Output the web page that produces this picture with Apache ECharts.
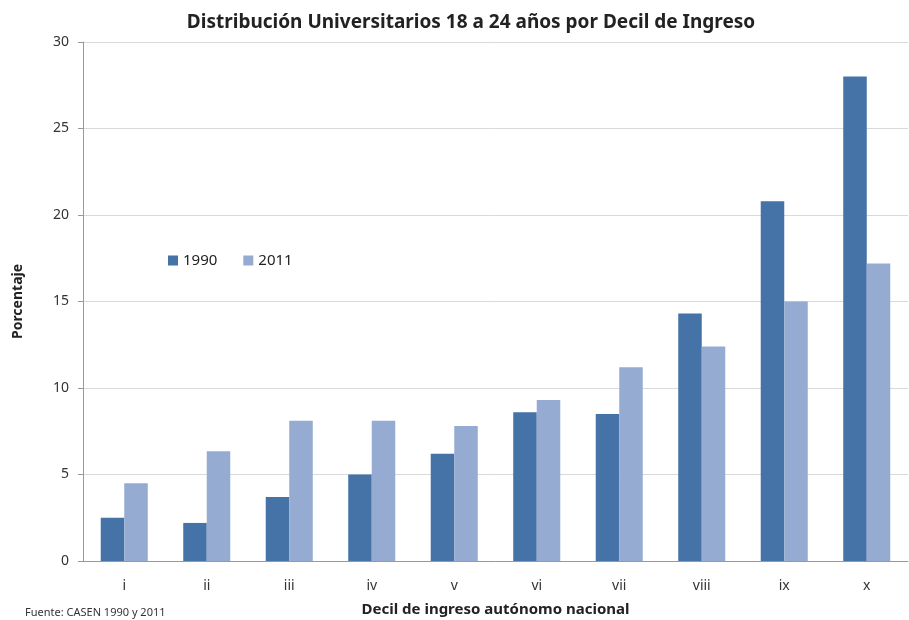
<!DOCTYPE html>
<html>
<head>
<meta charset="utf-8">
<script src="https://cdn.jsdelivr.net/npm/echarts@6/dist/echarts.min.js"></script>
<style>
  html, body { margin: 0; padding: 0; background: #fff; }
  #chart { width: 909px; height: 620px; }
</style>
</head>
<body>
<div id="chart"></div>
<script>
// datos
var deciles = ['i', 'ii', 'iii', 'iv', 'v', 'vi', 'vii', 'viii', 'ix', 'x'];
var datos1990 = [2.5, 2.2, 3.7, 5.0, 6.2, 8.6, 8.5, 14.3, 20.8, 28.0];
var datos2011 = [4.5, 6.35, 8.1, 8.1, 7.8, 9.3, 11.2, 12.4, 15.0, 17.2];

var fuente = 'Noto Sans';

var myChart = echarts.init(document.getElementById('chart'));

var option = {
    animation: false,
    title: [{
        text: 'Distribución Universitarios 18 a 24 años por Decil de Ingreso',
        left: 466,
        textAlign: 'center',
        top: 8,
        textStyle: { fontFamily: fuente, fontSize: 19, fontWeight: 'bold', color: '#222' }
    }, {
        text: 'Fuente: CASEN 1990 y 2011',
        left: 20,
        top: 602,
        textStyle: { fontFamily: fuente, fontSize: 11, fontWeight: 'normal', color: '#333' }
    }],
    legend: {
        left: 163,
        top: 248,
        itemWidth: 10,
        itemHeight: 10,
        itemGap: 26,
        icon: 'rect',
        data: ['1990', '2011'],
        textStyle: { fontFamily: fuente, fontSize: 15, color: '#222' }
    },
    grid: { left: 83, right: 1, top: 42, bottom: 59, containLabel: false, outerBoundsMode: 'none' },
    xAxis: {
        type: 'category',
        data: deciles,
        name: 'Decil de ingreso autónomo nacional',
        nameLocation: 'middle',
        nameGap: 41,
        nameTextStyle: { fontFamily: fuente, fontSize: 15, fontWeight: 'bold', color: '#222' },
        axisLine: { lineStyle: { color: '#999' } },
        axisTick: { length: 5, lineStyle: { color: '#999' } },
        axisLabel: { fontFamily: fuente, fontSize: 14, color: '#333', margin: 18 }
    },
    yAxis: {
        type: 'value',
        min: 0,
        max: 30,
        interval: 5,
        name: 'Porcentaje',
        nameLocation: 'middle',
        nameGap: 58,
        nameRotate: 90,
        nameTextStyle: { fontFamily: fuente, fontSize: 14, fontWeight: 'bold', color: '#222' },
        axisLine: { show: true, lineStyle: { color: '#999' } },
        axisTick: { show: true, length: 5, lineStyle: { color: '#999' } },
        axisLabel: { fontFamily: fuente, fontSize: 14, color: '#333', margin: 14 },
        splitLine: { lineStyle: { color: '#d9d9d9' } }
    },
    series: [{
        name: '1990',
        type: 'bar',
        data: datos1990,
        barGap: '0%',
        barCategoryGap: '43%',
        itemStyle: { color: '#4572a7' }
    }, {
        name: '2011',
        type: 'bar',
        data: datos2011,
        barGap: '0%',
        barCategoryGap: '43%',
        itemStyle: { color: '#95abd2' }
    }]
};
myChart.setOption(option);
window.addEventListener('resize', function () {
    myChart.resize();
});
</script>
</body>
</html>
